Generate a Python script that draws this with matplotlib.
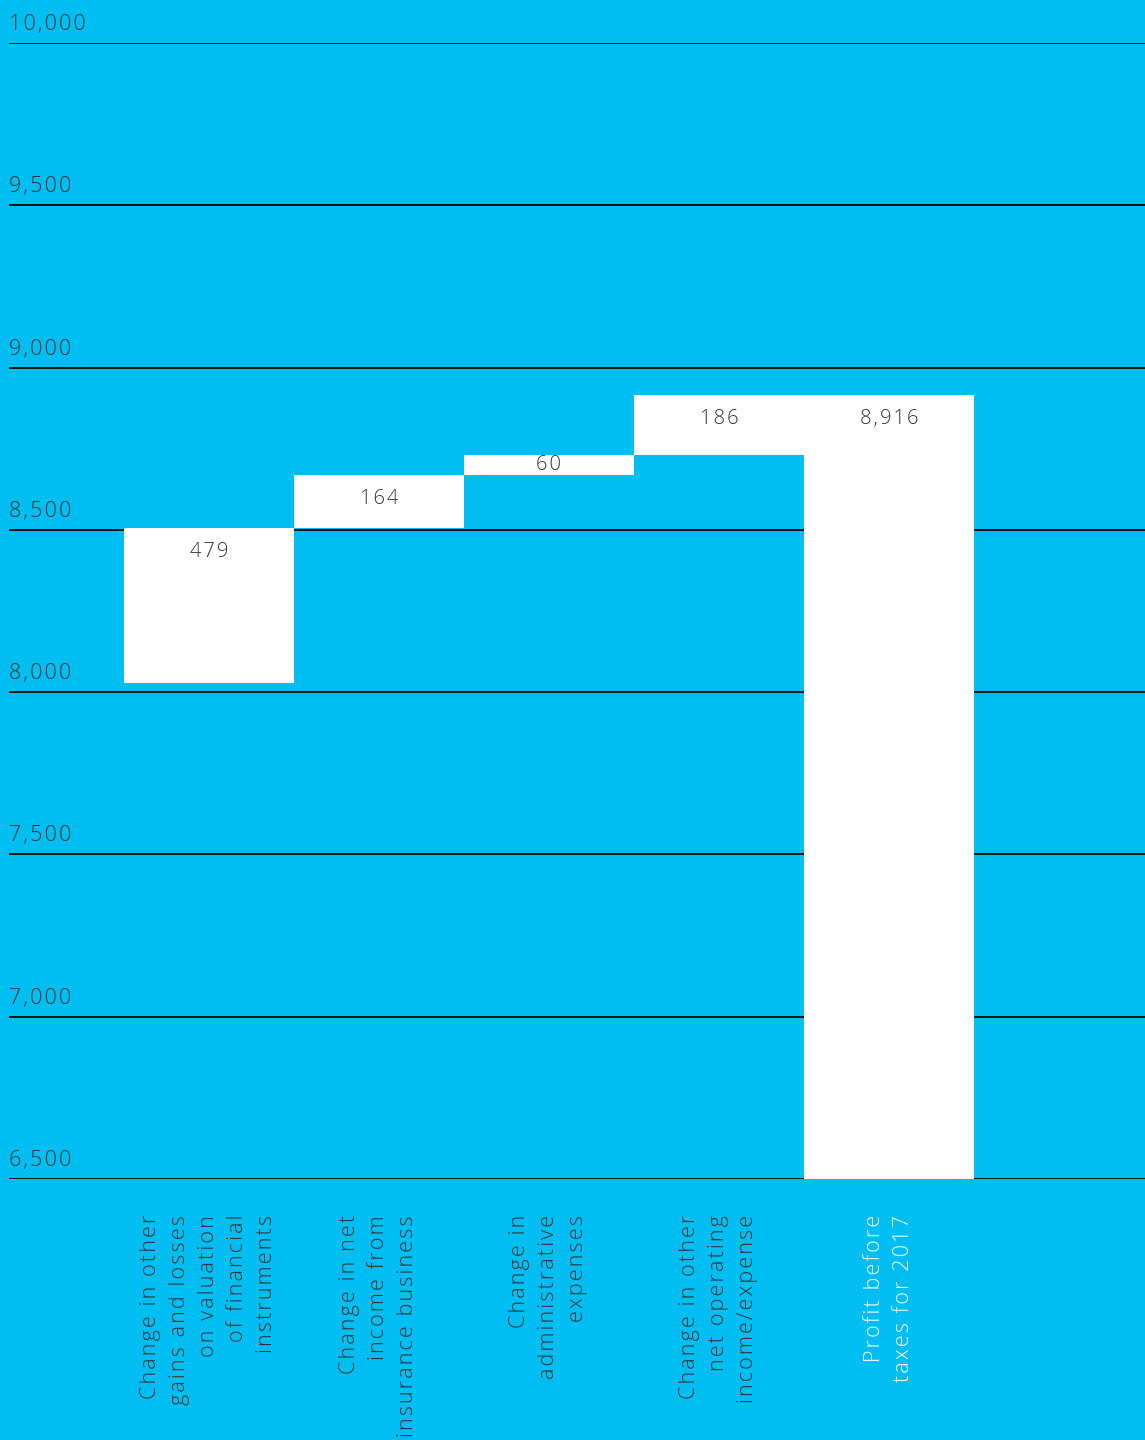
import matplotlib
matplotlib.use("Agg")
import matplotlib.pyplot as plt
import matplotlib.transforms as mtransforms

# Waterfall data (EUR millions)
categories = [
    "Change in other\ngains and losses\non valuation\nof financial\ninstruments",
    "Change in net\nincome from\ninsurance business",
    "Change in\nadministrative\nexpenses",
    "Change in other\nnet operating\nincome/expense",
    "Profit before\ntaxes for 2017",
]
changes = [479, 164, 60, 186]
total = 8916
y_ticks = [6500, 7000, 7500, 8000, 8500, 9000, 9500, 10000]

BG = "#00BDF2"
TXT = "#333333"
FONT = ["Open Sans", "DejaVu Sans"]
GAP = "\u200a"


def spaced(s):
    """Track letters apart with hair spaces."""
    return "\n".join(GAP.join(line) for line in s.split("\n"))


fig = plt.figure(figsize=(11.45, 14.4), dpi=100, facecolor=BG)
ax = fig.add_axes([9 / 1145, 1 - 1179 / 1440, 1 - 9 / 1145, (1179 - 43) / 1440])
ax.set_facecolor(BG)
ax.set_ylim(6500, 10000)
ax.set_xlim(-1.176, 5.506)
for s in ax.spines.values():
    s.set_visible(False)
ax.set_xticks([])
ax.set_yticks([])

# Gridlines with labels sitting above each line
lab_tr = mtransforms.blended_transform_factory(ax.transAxes, ax.transData)
for v in y_ticks:
    ax.axhline(v, color="#111111", lw=1.4, zorder=1)
    t = ax.text(0.0, v, spaced(f"{v:,}"), transform=lab_tr, ha="left", va="bottom",
                fontsize=15.5, color=TXT, family=FONT, weight="light", zorder=3)
    t.set_transform(lab_tr + mtransforms.ScaledTranslation(0, 8 / 100, fig.dpi_scale_trans))

# Floating bars
start = total - sum(changes)
bottoms, heights = [], []
level = start
for c in changes:
    bottoms.append(level)
    heights.append(c)
    level += c
bottoms.append(6500)
heights.append(total - 6500)
values = changes + [total]

xs = list(range(len(categories)))
ax.bar(xs, heights, bottom=bottoms, width=1.0, color="white", linewidth=0, zorder=2)

px = (10000 - 6500) / (1179 - 43)  # data units per pixel
for x, b, h, v in zip(xs, bottoms, heights, values):
    top = b + h
    off = min(24 * px, h / 2)
    ax.text(x, top - off, spaced(f"{v:,}"), ha="center", va="center",
            fontsize=14.5, color=TXT, family=FONT, weight="light", zorder=4)

# Rotated category labels under the axis
for x, lab in zip(xs, categories):
    col = "white" if x == 4 else TXT
    t = ax.text(x, 6500, spaced(lab), rotation=90, ha="center", va="top",
                multialignment="right", fontsize=15.5, color=col, family=FONT,
                weight="light", linespacing=1.5, clip_on=False)
    t.set_transform(ax.transData + mtransforms.ScaledTranslation(0, -36 / 100, fig.dpi_scale_trans))

fig.savefig("out.png", dpi=100, facecolor=BG)
